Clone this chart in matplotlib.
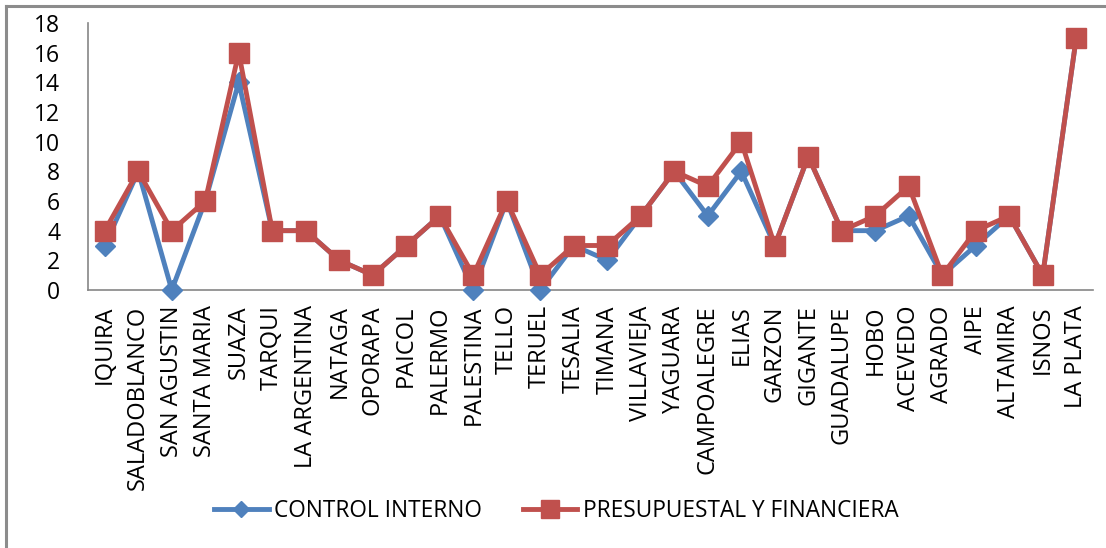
import matplotlib
matplotlib.use("Agg")
import matplotlib.pyplot as plt
from matplotlib.lines import Line2D

# Municipalities and number of findings per audit area
municipios = [
    "IQUIRA", "SALADOBLANCO", "SAN AGUSTIN", "SANTA MARIA", "SUAZA", "TARQUI",
    "LA ARGENTINA", "NATAGA", "OPORAPA", "PAICOL", "PALERMO", "PALESTINA",
    "TELLO", "TERUEL", "TESALIA", "TIMANA", "VILLAVIEJA", "YAGUARA",
    "CAMPOALEGRE", "ELIAS", "GARZON", "GIGANTE", "GUADALUPE", "HOBO",
    "ACEVEDO", "AGRADO", "AIPE", "ALTAMIRA", "ISNOS", "LA PLATA",
]
control_interno = [3, 8, 0, 6, 14, 4, 4, 2, 1, 3, 5, 0, 6, 0, 3, 2, 5, 8,
                   5, 8, 3, 9, 4, 4, 5, 1, 3, 5, 1, 17]
presupuestal = [4, 8, 4, 6, 16, 4, 4, 2, 1, 3, 5, 1, 6, 1, 3, 3, 5, 8,
                7, 10, 3, 9, 4, 5, 7, 1, 4, 5, 1, 17]
y_ticks = [0, 2, 4, 6, 8, 10, 12, 14, 16, 18]

plt.rcParams["font.family"] = ["Open Sans", "DejaVu Sans"]

W, H = 1106, 548
fig = plt.figure(figsize=(W / 100, H / 100), dpi=100)
ax = fig.add_axes([88 / W, 1 - 290 / H, (1093 - 88) / W, (290 - 23) / H])

x = list(range(len(municipios)))
blue = "#4F81BD"
red = "#C0504D"

ax.plot(x, control_interno, color=blue, lw=3.5, marker="D", ms=10,
        label="CONTROL INTERNO", zorder=3, clip_on=False)
ax.plot(x, presupuestal, color=red, lw=3.5, marker="s", ms=15,
        label="PRESUPUESTAL Y FINANCIERA", zorder=4, clip_on=False)

ax.set_xlim(-0.5, len(municipios) - 0.5)
ax.set_ylim(0, 18)
ax.set_yticks(y_ticks)
ax.set_xticks(x)
ax.set_xticklabels(municipios, rotation=90, fontsize=17)
ax.tick_params(axis="y", length=0, pad=20, labelsize=16.5)
ax.tick_params(axis="x", length=0, pad=11)

for side in ("top", "right"):
    ax.spines[side].set_visible(False)
for side in ("left", "bottom"):
    ax.spines[side].set_color("#868686")
    ax.spines[side].set_linewidth(1.2)

leg = fig.legend(loc="center", bbox_to_anchor=(0.503, 1 - 511 / H), ncol=2,
                 frameon=False, fontsize=16.3, handlelength=2.4,
                 columnspacing=1.8, handletextpad=0.25)
for h in leg.legend_handles:
    if h.get_marker() == "D":
        h.set_markersize(8)
    else:
        h.set_markersize(13)

# Frame lines on the top and left edges
fig.add_artist(Line2D([6 / W, 1], [1 - 6 / H, 1 - 6 / H], color="#8C8C8C",
                      lw=2.2, transform=fig.transFigure))
fig.add_artist(Line2D([6 / W, 6 / W], [0, 1 - 6 / H], color="#8C8C8C",
                      lw=2.2, transform=fig.transFigure))

fig.savefig("out.png", dpi=100)
